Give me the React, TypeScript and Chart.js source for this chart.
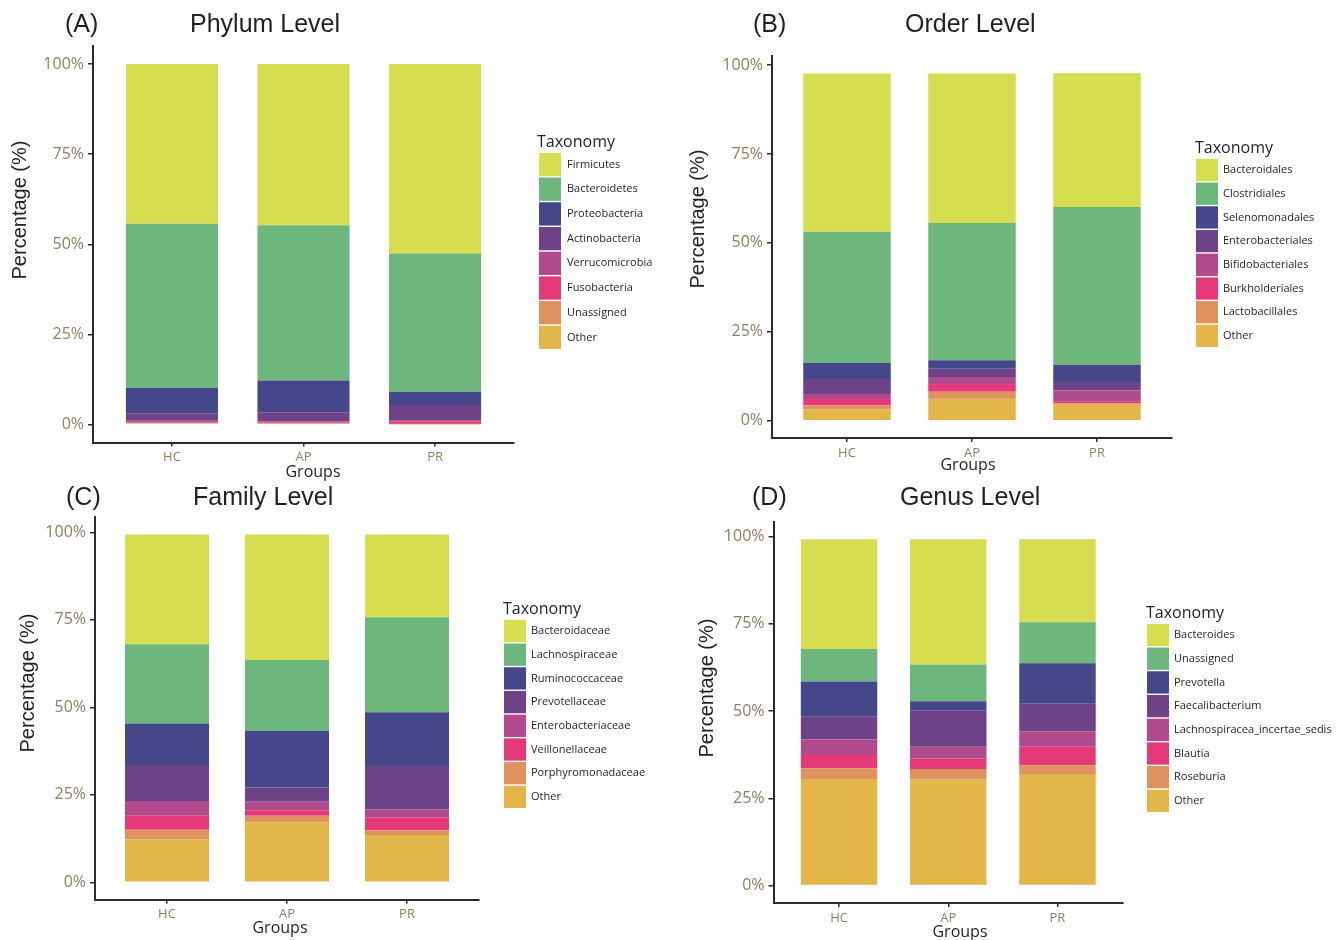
import React, { useEffect, useRef } from 'react';
import { Chart, registerables } from 'chart.js';

Chart.register(...registerables);

// ---------- data ----------
const GROUPS = ['HC', 'AP', 'PR'];
const Y_TICKS = [0, 25, 50, 75, 100];
const COLORS = ['#d6de4f', '#6db67c', '#46468a', '#6d4287', '#b04a8c', '#e6397a', '#de935e', '#e3b64a'];

// legend order (top of stack first)
const PHYLUM_TAXA = ['Firmicutes', 'Bacteroidetes', 'Proteobacteria', 'Actinobacteria', 'Verrucomicrobia', 'Fusobacteria', 'Unassigned', 'Other'];
const PHYLUM_HC = [44.3, 45.6, 7.1, 2.0, 0.3, 0.2, 0.2, 0.3];
const PHYLUM_AP = [44.7, 43.1, 8.8, 2.5, 0.3, 0.2, 0.2, 0.2];
const PHYLUM_PR = [52.6, 38.3, 3.7, 4.4, 0.1, 0.8, 0.05, 0.05];

const ORDER_TAXA = ['Bacteroidales', 'Clostridiales', 'Selenomonadales', 'Enterobacteriales', 'Bifidobacteriales', 'Burkholderiales', 'Lactobacillales', 'Other'];
const ORDER_HC = [44.5, 36.9, 4.5, 4.2, 1.4, 1.8, 1.1, 3.2];
const ORDER_AP = [42.0, 38.6, 2.4, 2.3, 2.0, 2.2, 1.9, 6.2];
const ORDER_PR = [37.6, 44.4, 4.8, 2.4, 3.2, 0.4, 0.4, 4.5];

const FAMILY_TAXA = ['Bacteroidaceae', 'Lachnospiraceae', 'Ruminococcaceae', 'Prevotellaceae', 'Enterobacteriaceae', 'Veillonellaceae', 'Porphyromonadaceae', 'Other'];
const FAMILY_HC = [31.4, 22.6, 11.9, 10.3, 4.2, 4.0, 2.7, 12.3];
const FAMILY_AP = [35.9, 20.3, 16.1, 4.1, 2.4, 1.6, 1.9, 17.1];
const FAMILY_PR = [23.7, 27.1, 15.4, 12.3, 2.4, 3.6, 1.4, 13.5];

const GENUS_TAXA = ['Bacteroides', 'Unassigned', 'Prevotella', 'Faecalibacterium', 'Lachnospiracea_incertae_sedis', 'Blautia', 'Roseburia', 'Other'];
const GENUS_HC = [31.5, 9.3, 10.1, 6.5, 4.5, 3.8, 3.3, 30.3];
const GENUS_AP = [35.9, 10.6, 2.7, 10.3, 3.4, 3.0, 2.9, 30.5];
const GENUS_PR = [23.8, 11.8, 11.6, 7.9, 4.4, 5.3, 2.5, 32.0];

// ---------- layout / style ----------
const TICK_COLOR = '#8c8064';
const TEXT_COLOR = '#231f20';
const AXIS_COLOR = '#2b2b2b';
const PANEL_W = 670;
const Y_AXIS_W = 60;
const X_AXIS_H = 20;

type PanelCfg = {
  key: string;
  letter: string;
  title: string;
  taxa: string[];
  values: number[][];
  left: number;
  top: number;
  height: number;
  area: { l: number; r: number; t: number; b: number };
  yMin: number;
  yMax: number;
  letterX: number;
  titleX: number;
  titleY: number;
  yTitle: [number, number];
  xTitle: [number, number];
  legend: { titleX: number; titleY: number; swatchX: number; textX: number; firstY: number; pitch: number };
};

const PANELS: PanelCfg[] = [
  {
    key: 'A', letter: '(A)', title: 'Phylum Level', taxa: PHYLUM_TAXA, values: [PHYLUM_HC, PHYLUM_AP, PHYLUM_PR],
    left: 0, top: 0, height: 486, area: { l: 93, r: 514, t: 46, b: 442.5 }, yMin: -5, yMax: 105,
    letterX: 65, titleX: 190, titleY: 25, yTitle: [20, 210], xTitle: [313, 472],
    legend: { titleX: 537, titleY: 142, swatchX: 539, textX: 567, firstY: 164.5, pitch: 24.7 },
  },
  {
    key: 'B', letter: '(B)', title: 'Order Level', taxa: ORDER_TAXA, values: [ORDER_HC, ORDER_AP, ORDER_PR],
    left: 670, top: 0, height: 486, area: { l: 772, r: 1172, t: 55.8, b: 438.1 }, yMin: -4.9, yMax: 102.6,
    letterX: 753, titleX: 905, titleY: 25, yTitle: [698, 219], xTitle: [968, 465],
    legend: { titleX: 1195, titleY: 148, swatchX: 1196, textX: 1223, firstY: 170, pitch: 23.7 },
  },
  {
    key: 'C', letter: '(C)', title: 'Family Level', taxa: FAMILY_TAXA, values: [FAMILY_HC, FAMILY_AP, FAMILY_PR],
    left: 0, top: 470, height: 470, area: { l: 95, r: 479, t: 516.9, b: 899.8 }, yMin: -5, yMax: 104.4,
    letterX: 66, titleX: 193, titleY: 498, yTitle: [28, 683], xTitle: [280, 928],
    legend: { titleX: 503, titleY: 609, swatchX: 504, textX: 531, firstY: 631, pitch: 23.7 },
  },
  {
    key: 'D', letter: '(D)', title: 'Genus Level', taxa: GENUS_TAXA, values: [GENUS_HC, GENUS_AP, GENUS_PR],
    left: 670, top: 470, height: 470, area: { l: 773.5, r: 1123, t: 521.7, b: 903 }, yMin: -5, yMax: 104.3,
    letterX: 752, titleX: 900, titleY: 498, yTitle: [707, 688], xTitle: [960, 932],
    legend: { titleX: 1146, titleY: 613, swatchX: 1147, textX: 1174, firstY: 635, pitch: 23.7 },
  },
];

function makeDecor(p: PanelCfg) {
  return {
    id: 'decor' + p.key,
    afterDraw(chart: any) {
      const ctx = chart.ctx as CanvasRenderingContext2D;
      const ox = p.left;
      const oy = p.top;
      ctx.save();
      ctx.fillStyle = TEXT_COLOR;
      ctx.textBaseline = 'middle';
      ctx.textAlign = 'left';
      ctx.font = '25px "Liberation Sans", Arial, sans-serif';
      ctx.fillText(p.letter, p.letterX - ox, p.titleY - oy);
      ctx.fillText(p.title, p.titleX - ox, p.titleY - oy);

      // y axis title
      ctx.save();
      ctx.translate(p.yTitle[0] - ox, p.yTitle[1] - oy);
      ctx.rotate(-Math.PI / 2);
      ctx.textAlign = 'center';
      ctx.font = '20px "Liberation Sans", Arial, sans-serif';
      ctx.fillText('Percentage (%)', 0, 0);
      ctx.restore();

      // x axis title
      ctx.textAlign = 'center';
      ctx.font = '16px "Open Sans", sans-serif';
      ctx.fillText('Groups', p.xTitle[0] - ox, p.xTitle[1] - oy);

      // legend
      const lg = p.legend;
      ctx.textAlign = 'left';
      ctx.font = '16px "Open Sans", sans-serif';
      ctx.fillText('Taxonomy', lg.titleX - ox, lg.titleY - oy);
      const items = [...chart.data.datasets].reverse();
      ctx.font = '11px "Open Sans", sans-serif';
      items.forEach((ds: any, i: number) => {
        const cy = lg.firstY + i * lg.pitch - oy;
        ctx.fillStyle = ds.backgroundColor;
        ctx.fillRect(lg.swatchX - ox, cy - lg.pitch / 2 + 0.7, 22, lg.pitch - 1.4);
        ctx.fillStyle = TEXT_COLOR;
        ctx.fillText(ds.label, lg.textX - ox, cy);
      });
      ctx.restore();
    },
  };
}

function buildConfig(p: PanelCfg): any {
  const datasets = p.taxa
    .map((name, j) => ({
      label: name,
      data: GROUPS.map((_, i) => ({ x: i + 1, y: p.values[i][j] })),
      backgroundColor: COLORS[j],
      borderWidth: 0,
      stack: 'all',
      categoryPercentage: 1,
      barPercentage: 0.7,
    }))
    .reverse();

  const a = p.area;
  return {
    type: 'bar',
    data: { datasets },
    plugins: [makeDecor(p)],
    options: {
      animation: false,
      responsive: false,
      maintainAspectRatio: false,
      layout: {
        padding: {
          left: a.l - p.left - Y_AXIS_W,
          right: PANEL_W - (a.r - p.left),
          top: a.t - p.top,
          bottom: p.height - (a.b - p.top) - X_AXIS_H,
        },
      },
      plugins: {
        legend: { display: false },
        title: { display: false },
        tooltip: { enabled: false },
      },
      scales: {
        x: {
          type: 'linear',
          min: 0.4,
          max: 3.6,
          offset: false,
          afterBuildTicks: (s: any) => {
            s.ticks = GROUPS.map((_, i) => ({ value: i + 1 }));
          },
          afterFit: (s: any) => {
            s.height = X_AXIS_H;
          },
          ticks: {
            callback: (v: number) => GROUPS[Math.round(v) - 1] ?? '',
            color: TICK_COLOR,
            font: { family: '"Open Sans", sans-serif', size: 13 },
            padding: 3,
            autoSkip: false,
            maxRotation: 0,
          },
          grid: { display: true, offset: false, drawOnChartArea: false, drawTicks: true, tickLength: 4, color: AXIS_COLOR, lineWidth: 1.5 },
          border: { display: true, color: AXIS_COLOR, width: 2 },
        },
        y: {
          min: p.yMin,
          max: p.yMax,
          stacked: true,
          afterBuildTicks: (s: any) => {
            s.ticks = Y_TICKS.map((v) => ({ value: v }));
          },
          afterFit: (s: any) => {
            s.width = Y_AXIS_W;
          },
          ticks: {
            callback: (v: number) => v + '%',
            color: TICK_COLOR,
            font: { family: '"Open Sans", sans-serif', size: 16 },
            padding: 4,
          },
          grid: { display: true, offset: false, drawOnChartArea: false, drawTicks: true, tickLength: 5, color: AXIS_COLOR, lineWidth: 1.5 },
          border: { display: true, color: AXIS_COLOR, width: 2 },
        },
      },
    },
  };
}

function PanelChart({ p }: { p: PanelCfg }) {
  const ref = useRef<HTMLCanvasElement | null>(null);
  useEffect(() => {
    if (!ref.current) return;
    const chart = new Chart(ref.current, buildConfig(p));
    return () => chart.destroy();
  }, [p]);
  return (
    <canvas
      ref={ref}
      width={PANEL_W}
      height={p.height}
      style={{ position: 'absolute', left: p.left, top: p.top, width: PANEL_W, height: p.height }}
    />
  );
}

export default function App() {
  return (
    <div style={{ position: 'absolute', left: 0, top: 0, width: 1340, height: 940, background: '#ffffff' }}>
      {PANELS.map((p) => (
        <PanelChart key={p.key} p={p} />
      ))}
    </div>
  );
}
